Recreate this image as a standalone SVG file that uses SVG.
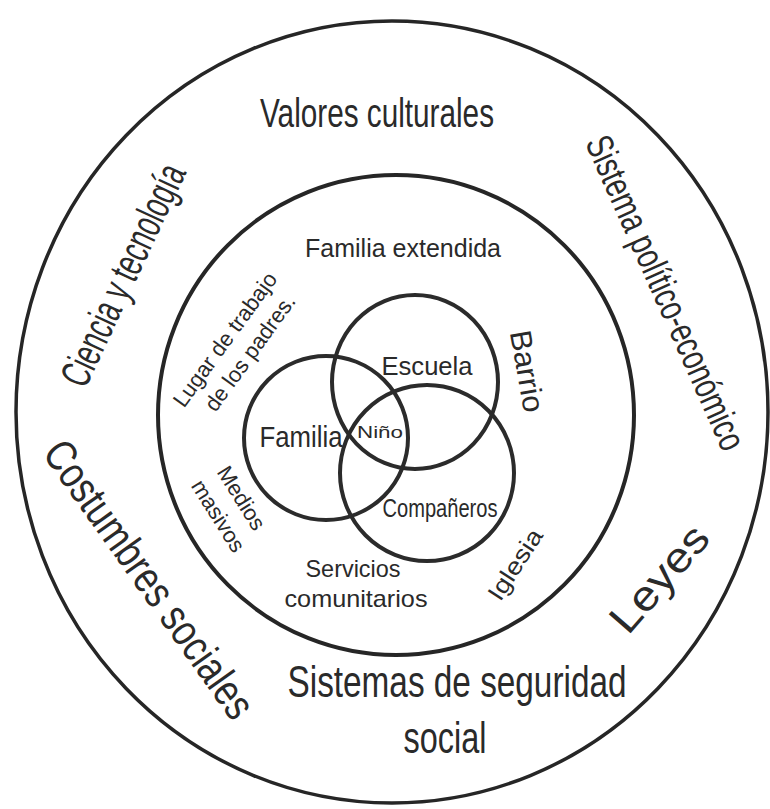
<svg xmlns="http://www.w3.org/2000/svg" width="770" height="809" viewBox="0 0 770 809">
<style>
.ring{fill:none;stroke:#262626;stroke-width:3.5}
.c{fill:none;stroke:#2b2b2b;stroke-width:4}
text{font-family:"Liberation Sans","DejaVu Sans",sans-serif;fill:#2a2a2a;text-anchor:middle}
.big{font-size:44px}
.mid{font-size:24px}
</style>
<rect width="770" height="809" fill="#ffffff"/>
<g id="outer-ring">
  <ellipse class="ring" cx="392" cy="412" rx="376" ry="391"/>
  <text x="377" y="127" font-size="40" textLength="234" lengthAdjust="spacingAndGlyphs">Valores culturales</text>
  <text transform="translate(136,281) rotate(-65)" font-size="42" textLength="240" lengthAdjust="spacingAndGlyphs">Ciencia y tecnología</text>
  <text transform="translate(654,298) rotate(66)" font-size="38" textLength="340" lengthAdjust="spacingAndGlyphs">Sistema político-económico</text>
  <text transform="translate(137,588) rotate(54.6)" class="big" textLength="330" lengthAdjust="spacingAndGlyphs">Costumbres sociales</text>
  <text transform="translate(670,588) rotate(-49)" font-size="42" textLength="128" lengthAdjust="spacingAndGlyphs">Leyes</text>
  <text x="457" y="697" class="big" textLength="339" lengthAdjust="spacingAndGlyphs">Sistemas de seguridad</text>
  <text x="445" y="753" class="big" textLength="83" lengthAdjust="spacingAndGlyphs">social</text>
</g>
<g id="inner-ring">
  <ellipse class="ring" cx="396" cy="415" rx="238" ry="240" style="stroke-width:4"/>
  <text x="403" y="257" font-size="25" textLength="196" lengthAdjust="spacingAndGlyphs">Familia extendida</text>
  <text transform="translate(517,373) rotate(80)" font-size="30" textLength="83" lengthAdjust="spacingAndGlyphs">Barrio</text>
  <text transform="translate(231,344) rotate(-54)" font-size="22">Lugar de trabajo<tspan x="4" y="28">de los padres.</tspan></text>
  <text transform="translate(235,502) rotate(58)" font-size="22">Medios<tspan x="3" y="29">masivos</tspan></text>
  <text x="353" y="577" class="mid" textLength="95" lengthAdjust="spacingAndGlyphs">Servicios</text>
  <text x="356" y="607" class="mid" textLength="143" lengthAdjust="spacingAndGlyphs">comunitarios</text>
  <text transform="translate(522,569) rotate(-57)" class="mid" textLength="80" lengthAdjust="spacingAndGlyphs">Iglesia</text>
</g>
<g id="familia">
  <ellipse class="c" cx="326" cy="438" rx="82" ry="82"/>
  <text x="301" y="447" font-size="30" textLength="83" lengthAdjust="spacingAndGlyphs">Familia</text>
</g>
<g id="escuela">
  <ellipse class="c" cx="415" cy="382" rx="83" ry="87"/>
  <text x="427" y="375" font-size="25" textLength="91" lengthAdjust="spacingAndGlyphs">Escuela</text>
</g>
<g id="companeros">
  <ellipse class="c" cx="427" cy="473" rx="87" ry="88"/>
  <text x="440" y="517" font-size="25" textLength="115" lengthAdjust="spacingAndGlyphs">Compañeros</text>
</g>
<g id="nino">
  <text x="380" y="438" font-size="16" textLength="46" lengthAdjust="spacingAndGlyphs">Niño</text>
</g>
</svg>
